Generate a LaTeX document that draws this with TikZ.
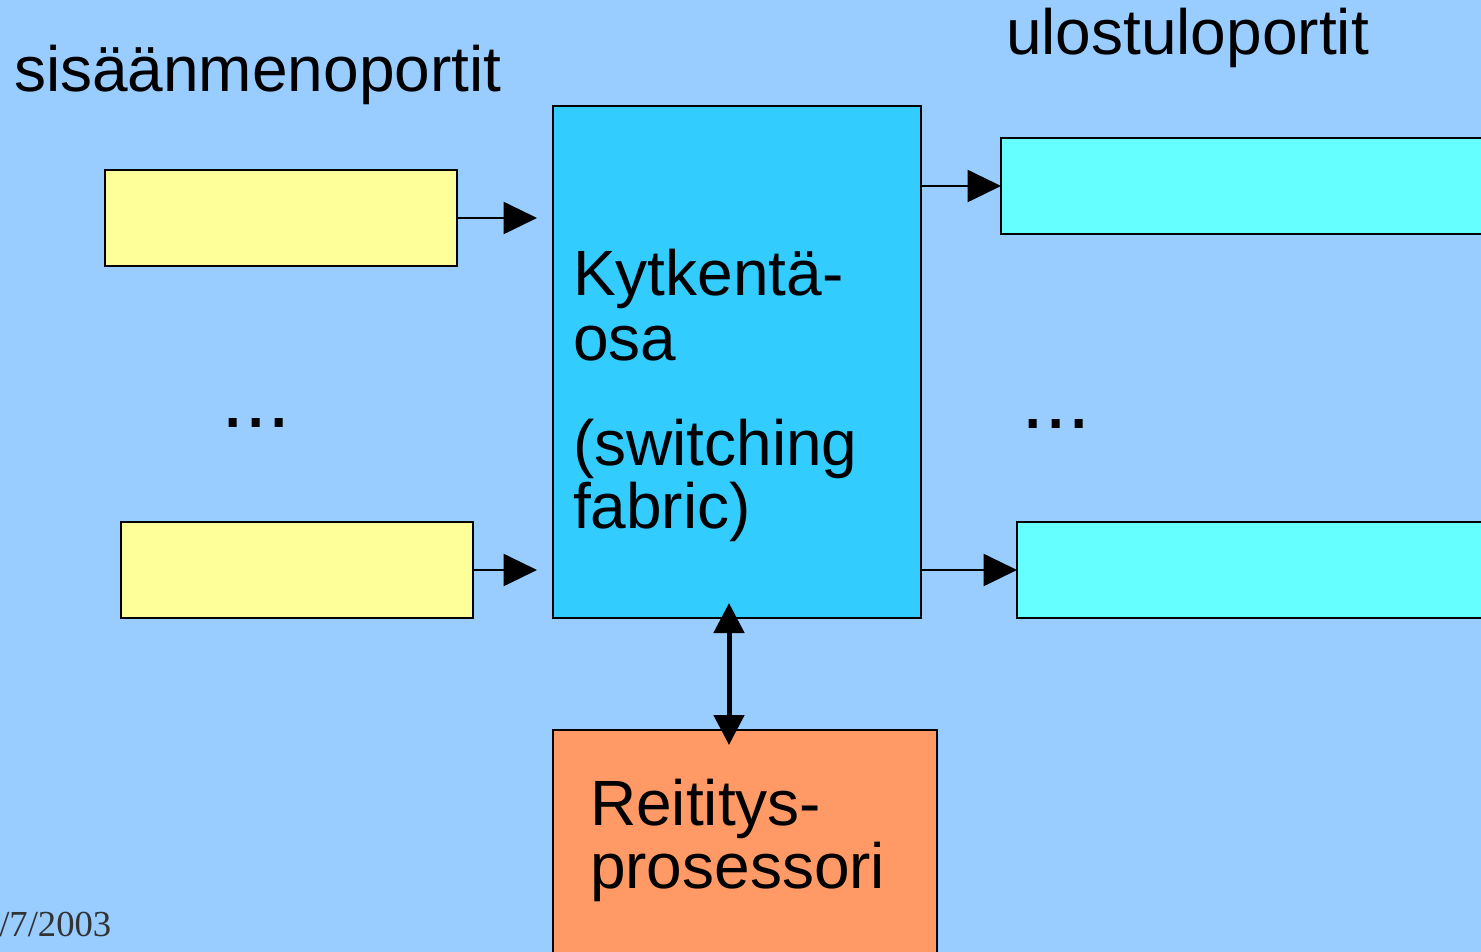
\documentclass[tikz,border=0pt]{standalone}
\usepackage{fontspec}
\setmainfont{Liberation Sans}
\newfontfamily\datefont{Liberation Serif}
\usetikzlibrary{arrows.meta}
\newlength\px \setlength\px{0.75pt}
\definecolor{bgblue}{HTML}{99CCFF}
\definecolor{swblue}{HTML}{33CCFF}
\definecolor{inyellow}{HTML}{FFFF99}
\definecolor{outcyan}{HTML}{66FFFF}
\definecolor{rporange}{HTML}{FF9966}
\definecolor{dategray}{HTML}{333333}
\begin{document}
\begin{tikzpicture}[x=0.75pt,y=-0.75pt,
  box/.style={draw=black, line width=1.5pt, inner sep=0pt, outer sep=0pt, anchor=north west},
  lbl/.style={anchor=base west, inner sep=0pt, outer sep=0pt, font=\fontsize{48}{48}\selectfont},
  dots/.style={anchor=base west, inner sep=0pt, outer sep=0pt, font=\fontsize{63}{63}\selectfont},
  conn/.style={line width=1.5pt, -{Triangle[length=25pt,width=24pt]}},
  dbl/.style={line width=3.75pt, {Triangle[length=22.5pt,width=22.5pt]}-{Triangle[length=22.5pt,width=22.5pt]}}]
\useasboundingbox (0,0) rectangle (1481,952);
\fill[bgblue] (0,0) rectangle (1481,952);

% boxes
\node[box, fill=inyellow, minimum width=352\px, minimum height=96\px] (in1) at (105,170) {};
\node[box, fill=inyellow, minimum width=352\px, minimum height=96\px] (in2) at (121,522) {};
\node[box, fill=swblue, minimum width=368\px, minimum height=512\px] (sw) at (553,106) {};
\node[box, fill=outcyan, minimum width=490\px, minimum height=96\px] (out1) at (1001,138) {};
\node[box, fill=outcyan, minimum width=474\px, minimum height=96\px] (out2) at (1017,522) {};
\node[box, fill=rporange, minimum width=384\px, minimum height=240\px] (rp) at (553,730) {};

% labels
\node[lbl] (tin) at (14,92) {sisäänmenoportit};
\node[lbl] (tout) at (1006,55) {ulostuloportit};
\node[lbl] (sw1) at (573,296) {Kytkentä-};
\node[lbl] (sw2) at (573,360) {osa};
\node[lbl] (sw3) at (573,465) {(switching};
\node[lbl] (sw4) at (573,528) {fabric)};
\node[lbl] (rp1) at (590,825) {Reititys-};
\node[lbl] (rp2) at (590,888) {prosessori};
\node[dots] (dl) at (221,427) {...};
\node[dots] (dr) at (1021,428) {...};
\node[anchor=base west, inner sep=0pt, font=\datefont\fontsize{27.5}{27.5}\selectfont, text=dategray] (date) at (-1,936) {/7/2003};

% connectors
\draw[conn, shorten >=12pt] (in1.east) -- (in1.east -| sw.west);
\draw[conn, shorten >=12pt] (in2.east) -- (in2.east -| sw.west);
\draw[conn] (sw.east |- out1.west) -- (out1.west);
\draw[conn] (sw.east |- out2.west) -- (out2.west);
\coordinate (dx) at (729,0);
\draw[dbl, shorten <=-11.25pt, shorten >=-11.25pt] (sw.south -| dx) -- (rp.north -| dx);
\end{tikzpicture}
\end{document}
